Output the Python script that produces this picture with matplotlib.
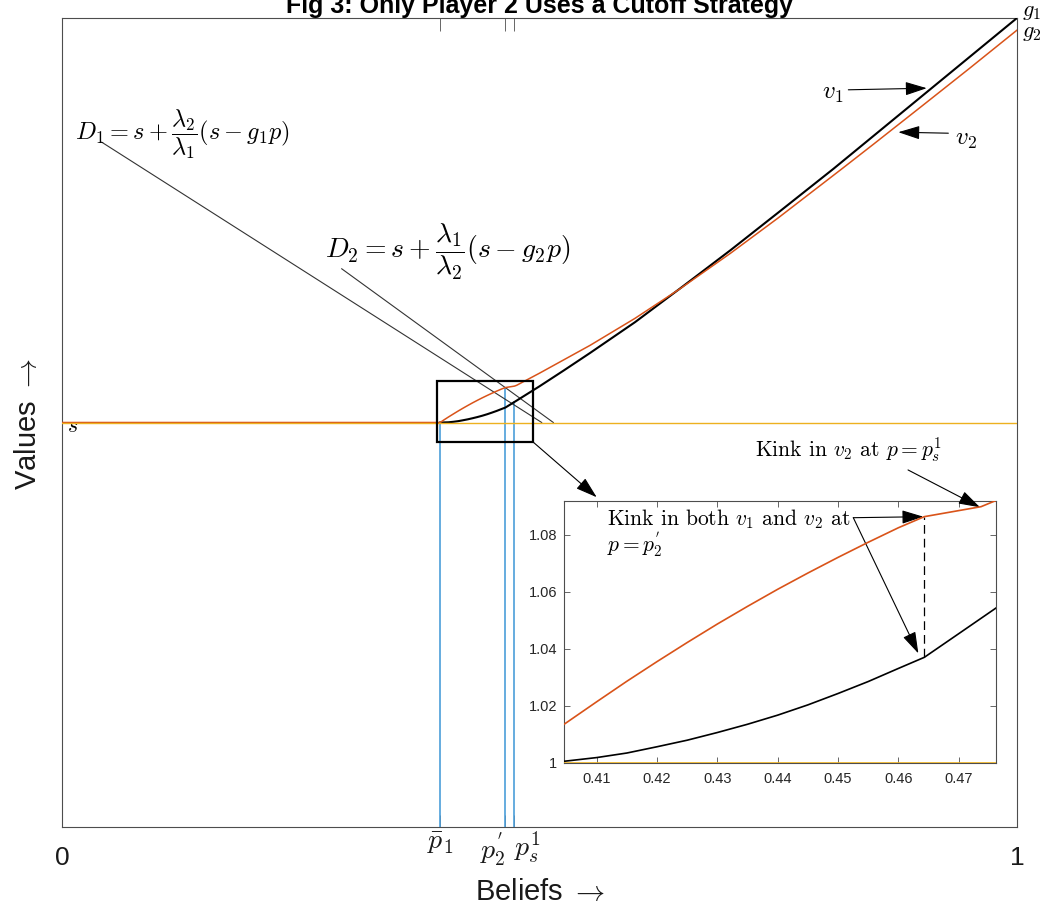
import numpy as np
import matplotlib
matplotlib.use('Agg')
import matplotlib.pyplot as plt
from matplotlib.patches import Rectangle

plt.rcParams['mathtext.fontset'] = 'cm'
plt.rcParams['font.family'] = ['Liberation Sans', 'DejaVu Sans']

# ---------------- data ----------------
s_val = 1.0
g1_val = 2.0
g2_val = 1.97
p_bar1 = 0.396
p2_prime = 0.4643
ps1 = 0.4737

v1_p = [0.396, 0.4046, 0.41, 0.415, 0.42, 0.425, 0.43, 0.435, 0.44, 0.445,
        0.45, 0.455, 0.46, 0.4643, 0.47, 0.4761, 0.50, 0.525, 0.553, 0.60,
        0.647, 0.70, 0.75, 0.8077, 0.85, 0.90, 0.95, 1.0]
v1_val = [1.0, 1.0005, 1.0018, 1.0034, 1.0056, 1.0079, 1.0106, 1.0135, 1.0167, 1.0203,
          1.0243, 1.0285, 1.0331, 1.0370, 1.0453, 1.0542, 1.0895, 1.128, 1.172, 1.248,
          1.331, 1.426, 1.519, 1.627, 1.709, 1.806, 1.903, 2.0]

v2_p = [0.0, 0.396, 0.40, 0.4046, 0.41, 0.415, 0.42, 0.425, 0.43, 0.435, 0.44,
        0.445, 0.45, 0.455, 0.46, 0.4643, 0.4737, 0.4761, 0.50, 0.525, 0.553,
        0.60, 0.647, 0.70, 0.75, 0.8181, 0.85, 0.90, 0.95, 1.0]
v2_val = [1.0, 1.0, 1.0065, 1.0135, 1.0214, 1.0286, 1.0355, 1.0422, 1.0487, 1.0549, 1.0609,
          1.0666, 1.0721, 1.0774, 1.0825, 1.0864, 1.0899, 1.092, 1.1219, 1.1544, 1.1908,
          1.2575, 1.3304, 1.4184, 1.5059, 1.6298, 1.6885, 1.7815, 1.875, 1.97]

d1_p = [0.0416, 0.5023]
d1_val = [1.693, 1.0]
d2_p = [0.2929, 0.5145]
d2_val = [1.380, 1.0]

end_ticks = [0.0, 1.0]
end_labels = ['0', '1']
kink_ticks = [p_bar1, p2_prime, ps1]
kink_labels = [r'$\bar{p}_1$', r"$p_2^{'}$", r'$p_s^1$']

inset_xticks = [0.41, 0.42, 0.43, 0.44, 0.45, 0.46, 0.47]
inset_xlabels = ['0.41', '0.42', '0.43', '0.44', '0.45', '0.46', '0.47']
inset_yticks = [1.0, 1.02, 1.04, 1.06, 1.08]
inset_ylabels = ['1', '1.02', '1.04', '1.06', '1.08']

zoom_box_p = [0.393, 0.4935]
zoom_box_v = [0.9513, 1.1038]

ORANGE = '#D95319'
YELLOW = '#EDB120'
BLUE = '#4C9ED9'
AXC = '#4d4d4d'

W, H = 1043, 914
fig = plt.figure(figsize=(W / 100, H / 100), dpi=100)
fig.patch.set_facecolor('white')

ax = fig.add_axes([62 / W, 1 - 827 / H, 955 / W, 809 / H])
ax.set_xlim(0, 1)
ax.set_ylim(0, 2)

# curves
ax.plot(v1_p, v1_val, color='black', lw=1.5, zorder=4)
ax.plot(v2_p, v2_val, color=ORANGE, lw=1.1, zorder=5)
ax.axhline(s_val, color=YELLOW, lw=1.0, zorder=6)

# vertical blue lines
v1_at_ps = np.interp(ps1, v1_p, v1_val)
v2_at_p2 = np.interp(p2_prime, v2_p, v2_val)
ax.plot([p_bar1, p_bar1], [0, s_val], color=BLUE, lw=1.2, zorder=3)
ax.plot([p2_prime, p2_prime], [0, v2_at_p2], color=BLUE, lw=1.2, zorder=3)
ax.plot([ps1, ps1], [0, v1_at_ps], color=BLUE, lw=1.2, zorder=3)

# D lines
ax.plot(d1_p, d1_val, color='#333333', lw=0.8, zorder=3)
ax.plot(d2_p, d2_val, color='#333333', lw=0.8, zorder=3)

# zoom rectangle
ax.add_patch(Rectangle((zoom_box_p[0], zoom_box_v[0]), zoom_box_p[1] - zoom_box_p[0],
                       zoom_box_v[1] - zoom_box_v[0], fill=False, ec='black', lw=1.6, zorder=7))

arrow_kw = dict(arrowstyle='-|>,head_length=0.95,head_width=0.3', color='black',
                lw=0.8, mutation_scale=14, shrinkA=0, shrinkB=0)

ax.annotate('', xy=(0.5599, 0.8153), xytext=(zoom_box_p[1], zoom_box_v[0]),
            arrowprops=arrow_kw, zorder=8)
ax.annotate('', xy=(0.9055, 1.8265), xytext=(0.8234, 1.8225), arrowprops=arrow_kw)
ax.annotate('', xy=(0.8757, 1.7177), xytext=(0.9281, 1.7152), arrowprops=arrow_kw)

# texts in main axes
ax.text(0.0052, 0.990, r'$s$', ha='left', va='center', fontsize=16)
ax.text(1.005, 2.015, r'$g_1$', ha='left', va='center', fontsize=16, clip_on=False)
ax.text(1.005, 1.964, r'$g_2$', ha='left', va='center', fontsize=16, clip_on=False)
ax.text(0.8178, 1.8146, r'$v_1$', ha='right', va='center', fontsize=18)
ax.text(0.9351, 1.7014, r'$v_2$', ha='left', va='center', fontsize=18)
ax.text(0.0136, 1.7134, r'$D_1 = s + \dfrac{\lambda_2}{\lambda_1}(s - g_1 p)$',
        ha='left', va='center', fontsize=17.5)
ax.text(0.2754, 1.421, r'$D_2 = s + \dfrac{\lambda_1}{\lambda_2}(s - g_2 p)$',
        ha='left', va='center', fontsize=20)

# ticks
ax.set_yticks([])
ax.set_xticks(end_ticks)
ax.set_xticklabels(end_labels)
ax.set_xticks(kink_ticks, minor=True)
ax.set_xticklabels(kink_labels, minor=True)
ax.tick_params(axis='x', which='both', direction='in', top=True, length=9, width=0.6,
               color=AXC, labelcolor='#1a1a1a')
ax.tick_params(axis='x', which='major', labelsize=19, pad=14)
ax.tick_params(axis='x', which='minor', labelsize=20, pad=2)
minor_labels = ax.get_xticklabels(minor=True)
minor_labels[1].set_horizontalalignment('right')
minor_labels[2].set_horizontalalignment('left')
for sp in ax.spines.values():
    sp.set_color(AXC)
    sp.set_linewidth(0.8)

# labels & title
fig.text(28 / W, 1 - 424 / H, r'Values $\rightarrow$', rotation=90, ha='center', va='center',
         fontsize=21, color='#1a1a1a')
fig.text(540 / W, 1 - 892 / H, r'Beliefs $\rightarrow$', ha='center', va='center',
         fontsize=21, color='#1a1a1a')
fig.text(539.5 / W, 1 - 13.5 / H, 'Fig 3: Only Player 2 Uses a Cutoff Strategy',
         ha='center', va='baseline', fontsize=18, fontweight='bold')

# ---------------- inset ----------------
axi = fig.add_axes([564.3 / W, 1 - 762.7 / H, 431.4 / W, 262 / H])
axi.set_xlim(0.40463, 0.47613)
axi.set_ylim(1.0, 1.092)
axi.plot(v1_p, v1_val, color='black', lw=1.2, zorder=4)
axi.plot(v2_p, v2_val, color=ORANGE, lw=1.2, zorder=5)
axi.axhline(s_val, color=YELLOW, lw=1.2, zorder=6)
v1_at_p2 = np.interp(p2_prime, v1_p, v1_val)
axi.plot([p2_prime, p2_prime], [v1_at_p2, v2_at_p2], color='black', lw=0.9,
         dashes=(7, 4), zorder=3)
axi.set_xticks(inset_xticks)
axi.set_xticklabels(inset_xlabels)
axi.set_yticks(inset_yticks)
axi.set_yticklabels(inset_ylabels)
axi.tick_params(direction='in', top=True, right=True, length=4, width=0.6, color=AXC,
                labelsize=10.5, labelcolor='#262626')
axi.tick_params(axis='x', pad=7)
axi.tick_params(axis='y', pad=5)
for sp in axi.spines.values():
    sp.set_color(AXC)
    sp.set_linewidth(0.8)

axi.text(0.43624, 1.10735, r'Kink in $v_2$ at $p = p_s^1$', family='cmr10',
         ha='left', va='baseline', fontsize=15.5, clip_on=False)
axi.text(0.41166, 1.08336, r'Kink in both $v_1$ and $v_2$ at', family='cmr10',
         ha='left', va='baseline', fontsize=15.5)
axi.text(0.41166, 1.0742, r"$p = p_2^{'}$", ha='left', va='baseline', fontsize=15.5)

axi.annotate('', xy=(0.47353, 1.08968), xytext=(0.4616, 1.1028), arrowprops=arrow_kw,
             annotation_clip=False)
axi.annotate('', xy=(0.46414, 1.08638), xytext=(0.45253, 1.08603), arrowprops=arrow_kw,
             annotation_clip=False)
axi.annotate('', xy=(0.46331, 1.03838), xytext=(0.45253, 1.08603), arrowprops=arrow_kw,
             annotation_clip=False)

fig.savefig('out.png', dpi=100)
